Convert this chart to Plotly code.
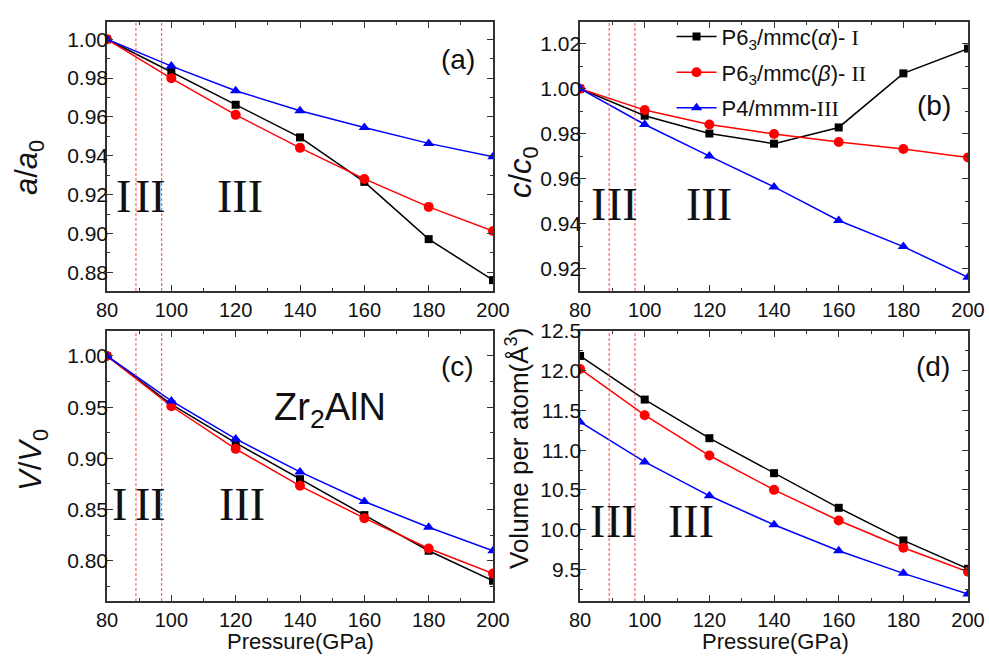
import plotly.graph_objects as go

# ---------------- data ----------------
pressure = [80, 100, 120, 140, 160, 180, 200]

a_alpha = [1.000, 0.9833, 0.9663, 0.9495, 0.9266, 0.8971, 0.8760]
a_beta = [1.000, 0.9799, 0.9611, 0.9441, 0.9281, 0.9137, 0.9013]
a_p4 = [1.000, 0.9862, 0.9735, 0.9632, 0.9546, 0.9464, 0.9395]

c_alpha = [1.000, 0.9880, 0.9801, 0.9756, 0.9828, 1.0068, 1.0178]
c_beta = [1.000, 0.9905, 0.9841, 0.9799, 0.9763, 0.9732, 0.9695]
c_p4 = [1.000, 0.9841, 0.9701, 0.9564, 0.9415, 0.9299, 0.9163]

v_alpha = [1.000, 0.9528, 0.9151, 0.8797, 0.8446, 0.8098, 0.7805]
v_beta = [1.000, 0.9509, 0.9093, 0.8732, 0.8416, 0.8120, 0.7876]
v_p4 = [1.000, 0.9561, 0.9190, 0.8868, 0.8579, 0.8328, 0.8098]

vol_alpha = [12.186, 11.637, 11.151, 10.711, 10.275, 9.865, 9.508]
vol_beta = [12.022, 11.440, 10.933, 10.501, 10.116, 9.772, 9.471]
vol_p4 = [11.356, 10.853, 10.426, 10.061, 9.735, 9.450, 9.190]

phase_bounds = [89, 97]

SERIF = "Liberation Serif, Times New Roman, serif"
SANS = "Liberation Sans, Arial, sans-serif"

series_names = [
    "P6<sub>3</sub>/mmc(<i>α</i>)- <span style=\"font-family:Liberation Serif\">I</span>",
    "P6<sub>3</sub>/mmc(<i>β</i>)- <span style=\"font-family:Liberation Serif\">II</span>",
    "P4/mmm-<span style=\"font-family:Liberation Serif\">III</span>",
]
colors = ["#000000", "#ff0000", "#0000ff"]
symbols = ["square", "circle", "triangle-up"]
msizes = [8, 10, 10]

panels = [
    ("x", "y", [a_alpha, a_beta, a_p4]),
    ("x2", "y2", [c_alpha, c_beta, c_p4]),
    ("x3", "y3", [v_alpha, v_beta, v_p4]),
    ("x4", "y4", [vol_alpha, vol_beta, vol_p4]),
]

fig = go.Figure()
for pi, (xa, ya, sets) in enumerate(panels):
    for si, vals in enumerate(sets):
        fig.add_trace(go.Scatter(
            x=pressure, y=vals, xaxis=xa, yaxis=ya,
            mode="lines+markers", name=series_names[si],
            legendgroup="g%d" % si,
            line=dict(color=colors[si], width=1.5),
            marker=dict(symbol=symbols[si], size=msizes[si], color=colors[si]),
            showlegend=(pi == 1),
        ))

# ---------------- axes ----------------
xl = [0.1082, 0.4985]
xr = [0.5865, 0.9788]
yt = [0.5571, 0.9665]
yb = [0.0852, 0.4962]

def xax(dom, anchor):
    return dict(domain=dom, anchor=anchor, range=[80, 200], tick0=80, dtick=20,
                ticks="inside", ticklen=6, tickwidth=1.2, tickcolor="#333",
                showline=True, linecolor="#333", linewidth=1.5, mirror="ticks",
                showgrid=False, zeroline=False, automargin=False,
                tickfont=dict(family=SANS, size=20, color="#111"),
                minor=dict(ticks="inside", ticklen=3, dtick=10, tickcolor="#333", showgrid=False))

def yax(dom, anchor, rng, dtick, mdt, fmt):
    return dict(domain=dom, anchor=anchor, range=rng, dtick=dtick, tick0=0, tickformat=fmt,
                ticks="inside", ticklen=6, tickwidth=1.2, tickcolor="#333",
                showline=True, linecolor="#333", linewidth=1.5, mirror="ticks",
                showgrid=False, zeroline=False, automargin=False, ticklabelstandoff=-7,
                tickfont=dict(family=SANS, size=21, color="#111"),
                minor=dict(ticks="inside", ticklen=3, dtick=mdt, tickcolor="#333", showgrid=False))

fig.update_layout(
    width=989, height=657, autosize=False,
    margin=dict(l=0, r=0, t=0, b=0, autoexpand=False),
    plot_bgcolor="white", paper_bgcolor="white",
    xaxis=xax(xl, "y"), yaxis=yax(yt, "x", [0.8704, 1.0089], 0.02, 0.01, ".2f"),
    xaxis2=xax(xr, "y2"), yaxis2=yax(yt, "x2", [0.9102, 1.0296], 0.02, 0.01, ".2f"),
    xaxis3=xax(xl, "y3"), yaxis3=yax(yb, "x3", [0.7607, 1.0244], 0.05, 0.025, ".2f"),
    xaxis4=xax(xr, "y4"), yaxis4=yax(yb, "x4", [9.102, 12.5], 0.5, 0.25, ".1f"),
    legend=dict(x=0.679, y=0.976, xanchor="left", yanchor="top",
                bgcolor="rgba(0,0,0,0)", font=dict(family=SANS, size=22, color="#111"),
                itemwidth=40, tracegroupgap=4),
    showlegend=True,
)

# phase boundary dashed lines
shapes = []
for xa, ya in [("x", "y"), ("x2", "y2"), ("x3", "y3"), ("x4", "y4")]:
    for pb in phase_bounds:
        shapes.append(dict(type="line", xref=xa, yref=ya + " domain", x0=pb, x1=pb, y0=0, y1=1,
                           line=dict(color="#ff4444", width=1, dash="3px,2px")))
fig.update_layout(shapes=shapes)

ann = []
# Roman numeral phase labels
roman = [
    ("x", "y", [85.0, 93.4, 121.3], 0.353),
    ("x2", "y2", [85.6, 93.0, 119.9], 0.323),
    ("x3", "y3", [84.0, 93.4, 121.9], 0.357),
    ("x4", "y4", [85.4, 92.8, 114.4], 0.294),
]
for xa, ya, xs, yy in roman:
    for txt, xx in zip(["I", "II", "III"], xs):
        ann.append(dict(text=txt, xref=xa, yref=ya + " domain", x=xx, y=yy, showarrow=False,
                        xanchor="center", yanchor="middle",
                        font=dict(family=SERIF, size=46, color="#111")))

# panel labels
for txt, xa, ya, xx, yy in [("(a)", "x", "y", 0.909, 0.862), ("(b)", "x2", "y2", 0.912, 0.69),
                            ("(c)", "x3", "y3", 0.907, 0.870), ("(d)", "x4", "y4", 0.910, 0.867)]:
    ann.append(dict(text=txt, xref=xa + " domain", yref=ya + " domain", x=xx, y=yy, showarrow=False,
                    xanchor="center", yanchor="middle", font=dict(family=SANS, size=28, color="#111")))

# Zr2AlN
ann.append(dict(text="Zr<sub>2</sub>AlN", xref="x3", yref="y3 domain", x=149.3, y=0.707, showarrow=False,
                xanchor="center", yanchor="middle", font=dict(family=SANS, size=38, color="#111")))

# y axis titles
for txt, px, py, sz in [("<i>a</i>/<i>a</i><sub>0</sub>", 29, 168, 31),
                        ("<i>c</i>/<i>c</i><sub>0</sub>", 523, 172, 31),
                        ("<i>V</i>/<i>V</i><sub>0</sub>", 33, 460, 31),
                        ("Volume per atom(Å<sup>3</sup>)", 517, 449, 26)]:
    ann.append(dict(text=txt, xref="paper", yref="paper", x=px / 989, y=1 - py / 657, textangle=-90,
                    showarrow=False, xanchor="center", yanchor="middle",
                    font=dict(family=SANS, size=sz, color="#111")))

# x axis titles
for px in [300, 775]:
    ann.append(dict(text="Pressure(GPa)", xref="paper", yref="paper", x=px / 989, y=1 - 641 / 657,
                    showarrow=False, xanchor="center", yanchor="middle",
                    font=dict(family=SANS, size=22, color="#111")))

fig.update_layout(annotations=ann)
fig.write_html("out.html")
